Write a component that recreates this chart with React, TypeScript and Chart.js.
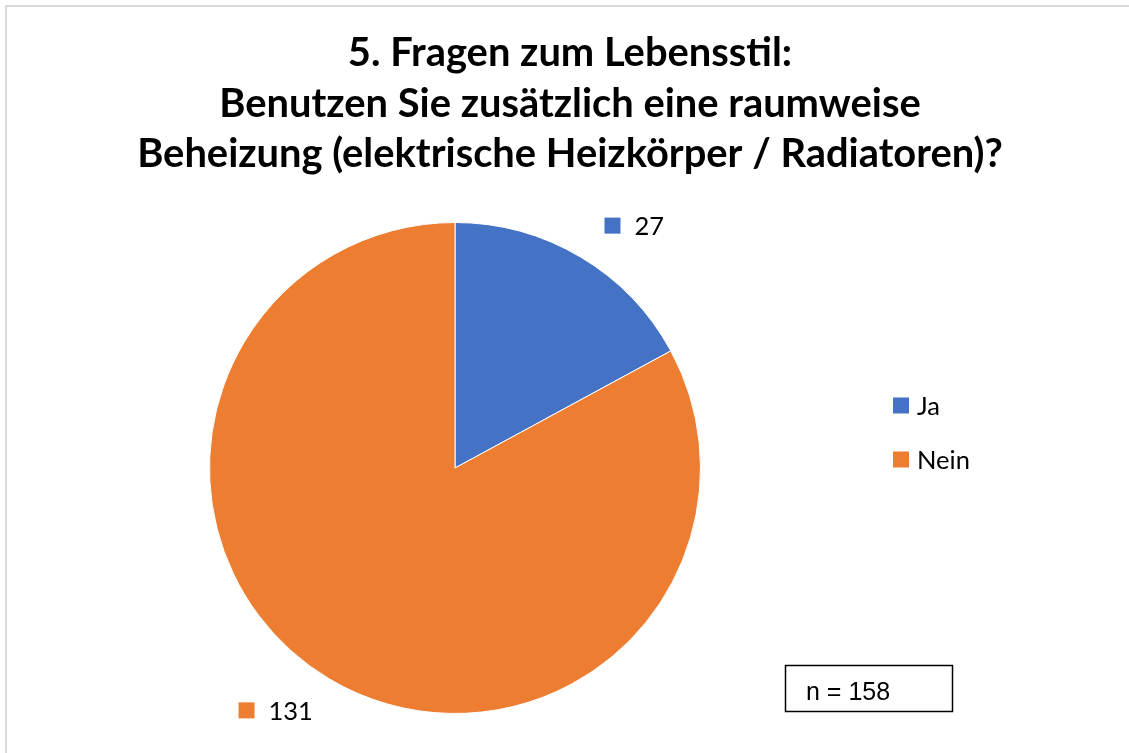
import React, { useEffect, useRef } from "react";
import { Chart, registerables } from "chart.js";
Chart.register(...registerables);

const titleLines = [
  "5. Fragen zum Lebensstil:",
  "Benutzen Sie zusätzlich eine raumweise",
  "Beheizung (elektrische Heizkörper / Radiatoren)?",
];
const categories = ["Ja", "Nein"];
const values = [27, 131];
const colors = ["#4472C4", "#ED7D31"];
const sampleNote = "n = 158";

const W = 1129;
const H = 753;
const FONT = "Lato, 'Open Sans', sans-serif";

const overlay = {
  id: "overlay",
  beforeDraw(chart: any) {
    const ctx = chart.ctx;
    ctx.save();
    ctx.fillStyle = "#ffffff";
    ctx.fillRect(0, 0, W, H);
    ctx.fillStyle = "#d9d9d9";
    ctx.fillRect(5, 5, W - 5, 2);
    ctx.fillRect(5, 5, 2, H - 5);
    ctx.restore();
  },
  afterDraw(chart: any) {
    const ctx = chart.ctx;
    ctx.save();
    // Title
    ctx.font = `bold 100px ${FONT}`;
    const w100 = ctx.measureText(titleLines[2]).width;
    const size = (100 * 866) / w100;
    ctx.font = `bold ${size}px ${FONT}`;
    ctx.fillStyle = "#000";
    ctx.textAlign = "center";
    ctx.textBaseline = "alphabetic";
    const ys = [66, 116.5, 167];
    titleLines.forEach((t, i) => ctx.fillText(t, 570, ys[i]));

    // Data labels with legend keys
    const meta = chart.getDatasetMeta(0);
    ctx.font = `25.5px ${FONT}`;
    ctx.textAlign = "left";
    ctx.textBaseline = "middle";
    meta.data.forEach((arc: any, i: number) => {
      const p = arc.getProps(["x", "y", "startAngle", "endAngle", "outerRadius"], true);
      const mid = (p.startAngle + p.endAngle) / 2 + 0.1;
      const r = p.outerRadius * 1.228;
      const cx = p.x + Math.cos(mid) * r;
      const cy = p.y + Math.sin(mid) * r;
      const text = String(values[i]);
      const tw = ctx.measureText(text).width;
      const bw = 16 + 14 + tw;
      const left = cx - bw / 2;
      ctx.fillStyle = colors[i];
      ctx.fillRect(left, cy - 8, 16, 16);
      ctx.fillStyle = "#000";
      ctx.fillText(text, left + 30, cy + 1);
    });

    // Legend
    const legendYs = [405.5, 459.5];
    categories.forEach((c, i) => {
      ctx.fillStyle = colors[i];
      ctx.fillRect(893, legendYs[i] - 8, 16, 16);
      ctx.fillStyle = "#000";
      ctx.fillText(c, 917, legendYs[i] + 1);
    });

    // n box
    ctx.strokeStyle = "#000";
    ctx.lineWidth = 1.5;
    ctx.strokeRect(785.5, 665.5, 167, 46);
    ctx.font = "25px 'Liberation Sans', Arial, sans-serif";
    ctx.textBaseline = "alphabetic";
    ctx.fillText(sampleNote, 806, 700);
    ctx.restore();
  },
};

export default function App() {
  const ref = useRef<HTMLCanvasElement>(null);
  useEffect(() => {
    if (!ref.current) return;
    const chart = new Chart(ref.current, {
      type: "pie",
      data: {
        labels: categories,
        datasets: [
          {
            data: values,
            backgroundColor: colors,
            borderColor: "#ffffff",
            borderWidth: 1,
          },
        ],
      },
      options: {
        responsive: false,
        animation: false,
        devicePixelRatio: 1,
        layout: { padding: { left: 209, right: 428, top: 222, bottom: 39 } },
        plugins: {
          legend: { display: false },
          title: { display: false },
          tooltip: { enabled: false },
        },
      },
      plugins: [overlay],
    });
    return () => chart.destroy();
  }, []);
  return (
    <div style={{ position: "fixed", left: 0, top: 0, width: W, height: H, background: "#fff" }}>
      <canvas ref={ref} width={W} height={H} style={{ display: "block", width: W, height: H }} />
    </div>
  );
}
